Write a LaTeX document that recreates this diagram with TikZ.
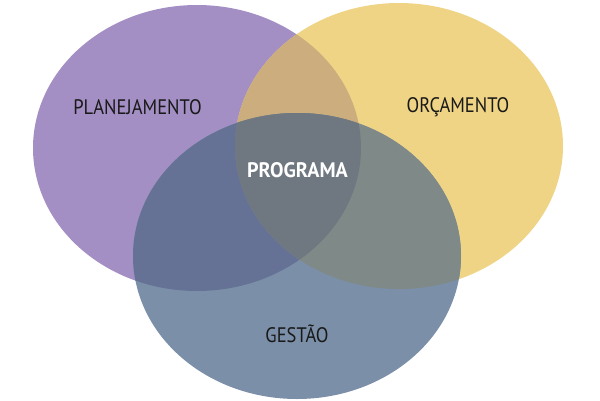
\documentclass[tikz,border=0pt]{standalone}
\usepackage{fontspec}
\setmainfont{PT Sans}[FakeStretch=0.88]
\newfontfamily\progfont{PT Sans}[FakeStretch=0.96]
\definecolor{plancol}{HTML}{A38FC3}
\definecolor{orccol}{HTML}{EFD485}
\definecolor{gescol}{HTML}{7B8FA8}
\definecolor{pocol}{HTML}{CBAD7E}
\definecolor{pgcol}{HTML}{657296}
\definecolor{ogcol}{HTML}{7F8987}
\definecolor{progcol}{HTML}{6F7880}

\begin{document}
\begin{tikzpicture}[x=1pt,y=-1pt,
    venn/.style={x radius=164,y radius=143},
    lbl/.style={font=\fontsize{21}{21}\selectfont,text=black!90}]
  \useasboundingbox (0,0) rectangle (600,400);
  \coordinate (plan) at (197,148);
  \coordinate (orc) at (399,146);
  \coordinate (ges) at (297,256);
  % the three sets
  \fill[plancol] (plan) ellipse[venn];
  \fill[orccol] (orc) ellipse[venn];
  \fill[gescol] (ges) ellipse[venn];
  % overlaps
  \begin{scope}
    \clip (plan) ellipse[venn];
    \fill[pocol] (orc) ellipse[venn];
    \fill[pgcol] (ges) ellipse[venn];
  \end{scope}
  \begin{scope}
    \clip (orc) ellipse[venn];
    \fill[ogcol] (ges) ellipse[venn];
    \clip (plan) ellipse[venn];
    \fill[progcol] (ges) ellipse[venn];
  \end{scope}
  \node[lbl] (planlbl) at (137.5,107) {PLANEJAMENTO};
  \node[lbl] (orclbl) at (458,107) {ORÇAMENTO};
  \node[lbl] (geslbl) at (297,334) {GESTÃO};
  \node[lbl,text=white,font=\progfont\fontsize{21}{21}\selectfont\bfseries] (proglbl) at (297.5,170.5) {PROGRAMA};
\end{tikzpicture}
\end{document}
